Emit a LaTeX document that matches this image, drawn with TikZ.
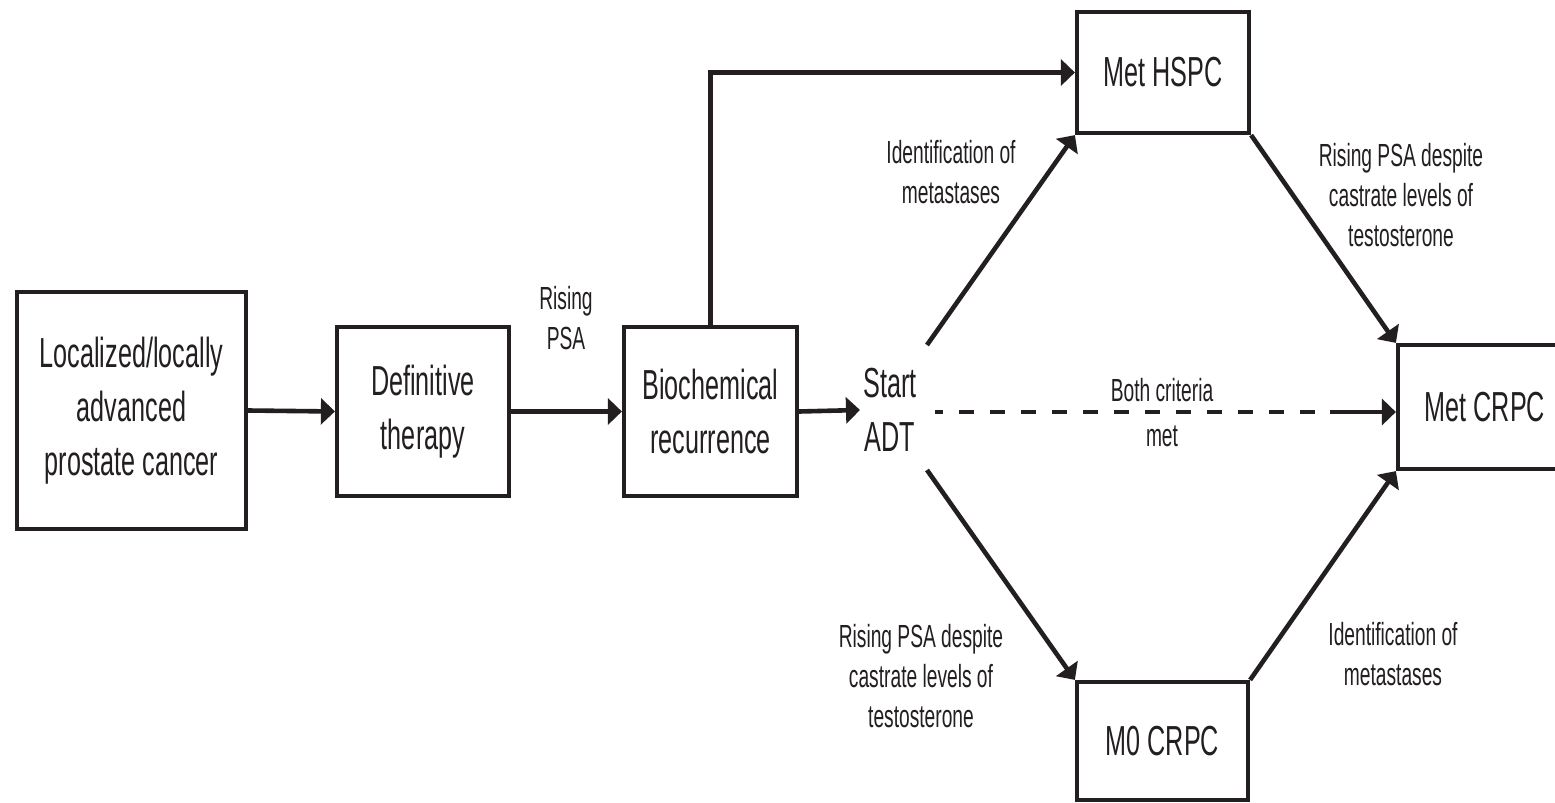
\documentclass[tikz,border=0pt]{standalone}
\usepackage{fontspec}
\setmainfont{Liberation Sans}[FakeStretch=0.6]
\usetikzlibrary{arrows.meta}
\definecolor{ink}{HTML}{231F20}
\newcommand\bigf{\fontsize{21}{27}\selectfont}
\newcommand\smallf{\fontsize{16}{20}\selectfont}
\begin{document}
\begin{tikzpicture}[x=0.5pt,y=-0.5pt,
  box/.style={draw=ink,line width=2.1pt,align=center,font=\bigf,text=ink,inner sep=0pt},
  lbl/.style={align=center,font=\smallf,text=ink,inner sep=0pt},
  conn/.style={draw=ink,line width=2.3pt,line join=miter,-{Triangle[length=7pt,width=13pt]}},
  dashconn/.style={draw=ink,line width=2.3pt,dash pattern=on 7.5pt off 8pt,dash phase=3.5pt}]
\useasboundingbox (0,0) rectangle (1555,803);
\clip (0,0) rectangle (1555,803);
\fill[white] (0,0) rectangle (1555,803);

% boxes
\node[box,minimum width=114.5pt,minimum height=118.5pt] (loc) at (131.5,410.5) {Localized/locally\\advanced\\prostate cancer};
\node[box,minimum width=86pt,minimum height=84.5pt] (def) at (423,411.5) {Definitive\\therapy};
\node[box,minimum width=86.5pt,minimum height=84.5pt] (bio) at (710.5,411.5) {Biochemical\\recurrence};
\node[box,minimum width=86pt,minimum height=60.5pt] (hspc) at (1163,72.5) {Met HSPC};
\node[box,minimum width=87pt,minimum height=62pt] (crpc) at (1485,407) {Met CRPC};
\node[box,minimum width=85.5pt,minimum height=59pt] (mzero) at (1162.5,741) {M0 CRPC};
\node[align=center,font=\bigf,text=ink,inner sep=1.5pt] (adt) at (890,410) {Start\\ADT};

% free ends
\coordinate (up) at (927,345);
\coordinate (down) at (927,470);
\coordinate (dstart) at (935,412);
\coordinate (dsolid) at (1330,412);

% connectors
\draw[conn] (loc.east) -- (def.west);
\draw[conn] (def.east) -- (bio.west);
\draw[conn] (bio.east) -- (adt.west);
\draw[conn] (bio.north) |- (hspc.west);
\draw[conn] (up) -- (hspc.south west);
\draw[conn] (down) -- (mzero.north west);
\draw[conn] (hspc.south east) -- (crpc.north west);
\draw[conn] (mzero.north east) -- (crpc.south west);
\draw[dashconn] (dstart) -- (dsolid);
\draw[conn] (dsolid) -- (dsolid -| crpc.west);

% labels
\node[lbl] (l1) at (566,318) {Rising\\PSA};
\node[lbl] (l2) at (951,172) {Identification of\\metastases};
\node[lbl] (l3) at (1401,195) {Rising PSA despite\\castrate levels of\\testosterone};
\node[lbl] (l4) at (1162,413) {Both criteria\\[2.5pt]met};
\node[lbl] (l5) at (921,676) {Rising PSA despite\\castrate levels of\\testosterone};
\node[lbl] (l6) at (1393,654) {Identification of\\metastases};
\end{tikzpicture}
\end{document}
